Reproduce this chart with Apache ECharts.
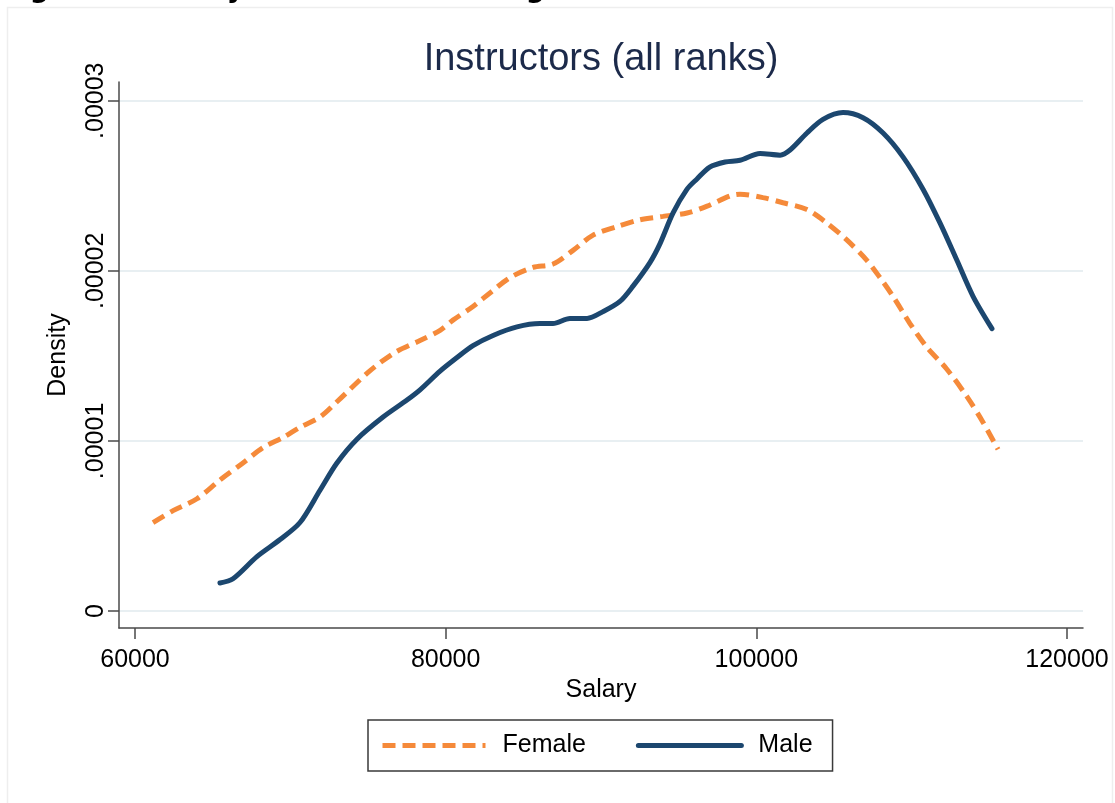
<!DOCTYPE html>
<html>
<head>
<meta charset="utf-8">
<title>Instructors (all ranks)</title>
<script src="https://cdn.jsdelivr.net/npm/echarts@6/dist/echarts.min.js"></script>
<style>
  html, body { margin: 0; padding: 0; background: #fff; }
  #chart { width: 1115px; height: 803px; }
</style>
</head>
<body>
<div id="chart"></div>
<script>
// values
const femaleSalary = [61160, 62450, 63990, 65470, 66950, 68240, 69530, 70620, 71910, 73000,
    75100, 76740, 78350, 79640, 80470, 81760, 82850, 84140, 85620, 86910,
    88200, 89490, 91030, 92510, 93990, 95540, 96830, 98310, 98950, 100430,
    101720, 103260, 104550, 105840, 107130, 107960, 108800, 109890, 110990, 112280,
    113560, 114590, 115560];
const femaleDensity = [0.52e-5, 0.59e-5, 0.66e-5, 0.77e-5, 0.87e-5, 0.96e-5, 1.02e-5, 1.08e-5, 1.14e-5, 1.23e-5,
    1.41e-5, 1.52e-5, 1.59e-5, 1.65e-5, 1.71e-5, 1.79e-5, 1.87e-5, 1.96e-5, 2.02e-5, 2.04e-5,
    2.12e-5, 2.21e-5, 2.26e-5, 2.30e-5, 2.32e-5, 2.34e-5, 2.38e-5, 2.44e-5, 2.45e-5, 2.43e-5,
    2.40e-5, 2.36e-5, 2.28e-5, 2.18e-5, 2.06e-5, 1.96e-5, 1.85e-5, 1.69e-5, 1.55e-5, 1.42e-5,
    1.26e-5, 1.11e-5, 0.95e-5];

const maleSalary = [65470, 66310, 67850, 69340, 70620, 71910, 73000, 74290, 75970, 77510,
    78350, 79640, 80730, 81760, 83050, 84590, 86070, 86910, 88000, 89100,
    90130, 91220, 92060, 93160, 93800, 94640, 95540, 96180, 97000, 97990,
    98950, 100240, 101530, 102170, 103260, 104290, 105580, 106870, 108160, 109440,
    110730, 111830, 112920, 113950, 115170];
const maleDensity = [0.165e-5, 0.19e-5, 0.32e-5, 0.42e-5, 0.52e-5, 0.71e-5, 0.87e-5, 1.01e-5, 1.14e-5, 1.24e-5,
    1.30e-5, 1.41e-5, 1.49e-5, 1.56e-5, 1.62e-5, 1.67e-5, 1.69e-5, 1.69e-5, 1.72e-5, 1.72e-5,
    1.76e-5, 1.82e-5, 1.91e-5, 2.05e-5, 2.16e-5, 2.34e-5, 2.48e-5, 2.54e-5, 2.61e-5, 2.64e-5,
    2.65e-5, 2.69e-5, 2.68e-5, 2.71e-5, 2.81e-5, 2.89e-5, 2.93e-5, 2.90e-5, 2.81e-5, 2.67e-5,
    2.48e-5, 2.28e-5, 2.06e-5, 1.85e-5, 1.66e-5];

const xTicks = [60000, 80000, 100000, 120000];
const xTickLabels = ['60000', '80000', '100000', '120000'];
const yTicks = [0, 0.00001, 0.00002, 0.00003];
const yTickLabels = ['0', '.00001', '.00002', '.00003'];

const FONT = '"Liberation Sans", Arial, Helvetica, sans-serif';

function pairs(xs, ys) {
    return xs.map(function (x, i) { return [x, ys[i]]; });
}

let myChart = echarts.init(document.getElementById('chart'), null, { renderer: 'canvas' });
let option = {
    backgroundColor: '#ffffff',
    animation: false,
    textStyle: { fontFamily: FONT },
    title: {
        text: 'Instructors (all ranks)',
        left: 601,
        textAlign: 'center',
        top: 41,
        padding: 0,
        textStyle: { fontFamily: FONT, fontSize: 38, fontWeight: 'normal', color: '#1c2a4a' }
    },
    graphic: [
        {
            type: 'rect',
            shape: { x: 7.5, y: 7.5, width: 1105, height: 820 },
            style: { fill: 'none', stroke: '#eeeeee', lineWidth: 1.5 },
            silent: true
        },
        {
            type: 'text',
            left: 2,
            top: -24,
            style: {
                text: 'Figure 3: Salary distribution among Instructors',
                font: 'bold 27px "DejaVu Sans", sans-serif',
                fill: '#000'
            },
            silent: true
        }
    ],
    grid: {
        left: 119,
        right: 32,
        top: 82,
        bottom: 175,
        containLabel: false,
        outerBoundsMode: 'none'
    },
    legend: {
        left: 368,
        top: 720,
        orient: 'horizontal',
        data: ['Female', 'Male'],
        itemWidth: 103,
        itemHeight: 14,
        itemGap: 50,
        padding: [13, 20, 13, 12],
        borderColor: '#3a3a3a',
        borderWidth: 1.5,
        borderRadius: 0,
        itemStyle: { opacity: 0 },
        lineStyle: { width: 5 },
        textStyle: { fontFamily: FONT, fontSize: 25, color: '#000', padding: [0, 0, 0, 12] }
    },
    xAxis: {
        type: 'value',
        min: 58970,
        max: 121030,
        name: 'Salary',
        nameLocation: 'middle',
        nameGap: 49,
        nameTextStyle: { fontFamily: FONT, fontSize: 25, color: '#000' },
        axisLine: { onZero: false, lineStyle: { color: '#4a4a4a', width: 1.5 } },
        axisTick: { customValues: xTicks, length: 11, lineStyle: { color: '#4a4a4a', width: 1.5 } },
        axisLabel: {
            customValues: xTicks,
            margin: 20,
            fontFamily: FONT,
            fontSize: 25,
            color: '#000',
            formatter: function (v) {
                return xTickLabels[xTicks.indexOf(v)];
            }
        },
        splitLine: { show: false }
    },
    yAxis: {
        type: 'value',
        min: -0.000001,
        max: 0.0000311,
        name: 'Density',
        nameLocation: 'middle',
        nameGap: 48,
        nameRotate: 90,
        nameTextStyle: { fontFamily: FONT, fontSize: 25, color: '#000' },
        axisLine: { show: true, lineStyle: { color: '#4a4a4a', width: 1.5 } },
        axisTick: { show: true, customValues: yTicks, length: 11, lineStyle: { color: '#4a4a4a', width: 1.5 } },
        axisLabel: {
            customValues: yTicks,
            rotate: 90,
            margin: 10,
            fontFamily: FONT,
            fontSize: 25,
            color: '#000',
            formatter: function (v) {
                let k = Math.round(v * 1e5);
                return yTickLabels[k];
            }
        },
        splitLine: { show: true, lineStyle: { color: '#e1eaee', width: 1.5 } }
    },
    series: [
        {
            name: 'Female',
            type: 'line',
            data: pairs(femaleSalary, femaleDensity),
            smooth: 0.3,
            symbol: 'none',
            color: '#f58a3a',
            lineStyle: { color: '#f58a3a', width: 5, type: [13, 7], cap: 'butt' },
            z: 2
        },
        {
            name: 'Male',
            type: 'line',
            data: pairs(maleSalary, maleDensity),
            smooth: 0.3,
            symbol: 'none',
            color: '#1c476f',
            lineStyle: { color: '#1c476f', width: 5, cap: 'round' },
            z: 3
        }
    ]
};
myChart.setOption(option);
window.onresize = function () {
    myChart.resize();
};
</script>
</body>
</html>
